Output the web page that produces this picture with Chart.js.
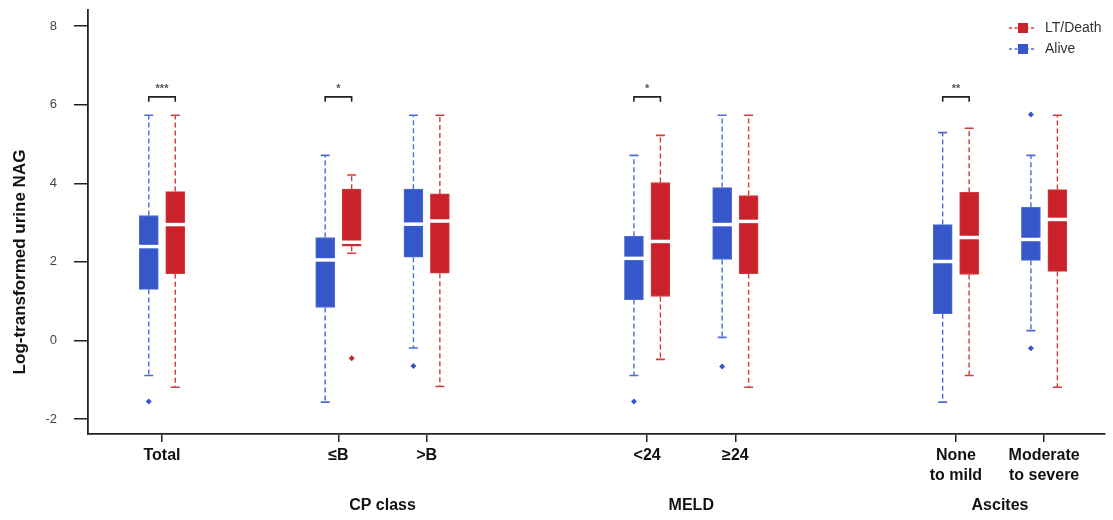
<!DOCTYPE html>
<html>
<head>
<meta charset="utf-8">
<script src="https://cdn.jsdelivr.net/npm/chart.js@4.4.1/dist/chart.umd.min.js"></script>
<style>
  html, body { margin: 0; padding: 0; background: #ffffff; }
  #wrap { width: 1113px; height: 520px; position: relative; }
</style>
</head>
<body>
<div id="wrap"><canvas id="c" width="1113" height="520"></canvas></div>
<script>
// ---------------- data ----------------
const categories = [['Total'], ['\u2264B'], ['>B'], ['<24'], ['\u226524'], ['None', 'to mild'], ['Moderate', 'to severe']];
const catPos = [1, 3, 4, 6.5, 7.5, 10, 11];
const groupLabels = ['CP class', 'MELD', 'Ascites'];
const groupPos = [3.5, 7.0, 10.5];
const yTicks = [-2, 0, 2, 4, 6, 8];
const seriesNames = ['Alive', 'LT/Death'];

// Alive (blue)
const aliveLow    = [-0.89, -1.57, -0.19, -0.89, 0.08, -1.57, 0.25];
const aliveQ1     = [1.30, 0.84, 2.12, 1.04, 2.06, 0.68, 2.04];
const aliveMedian = [2.39, 2.05, 2.96, 2.09, 2.95, 2.01, 2.57];
const aliveQ3     = [3.18, 2.62, 3.85, 2.65, 3.89, 2.95, 3.39];
const aliveHigh   = [5.73, 4.71, 5.73, 4.71, 5.73, 5.29, 4.71];
const aliveOutliers = [[-1.55], [], [-0.65], [-1.55], [-0.66], [], [-0.20, 5.75]];

// LT/Death (red)
const deathLow    = [-1.19, 2.22, -1.17, -0.48, -1.19, -0.89, -1.19];
const deathQ1     = [1.70, 2.40, 1.71, 1.12, 1.70, 1.68, 1.76];
const deathMedian = [2.95, 2.50, 3.04, 2.52, 3.03, 2.62, 3.08];
const deathQ3     = [3.79, 3.85, 3.73, 4.02, 3.69, 3.77, 3.84];
const deathHigh   = [5.73, 4.21, 5.73, 5.22, 5.73, 5.40, 5.73];
const deathOutliers = [[], [-0.45], [], [], [], [], []];

// significance marks between the pair of each category
const sigMarks = ['***', '*', '', '*', '', '**', ''];
const sigBracketValue = 6.2;

// ---------------- styling ----------------
const BLUE = '#3557C9', BLUE_W = '#4D6CD3';
const RED = '#C9222A', RED_W = '#D23C3C';
const OFFSET = 0.15;           // box offset from category centre (axis units)
const BOX_W = 19;              // px
const LABEL_FONT = "'Liberation Sans', Arial, sans-serif";

const groups = [
  { name: seriesNames[0], color: BLUE, wcolor: BLUE_W, off: -OFFSET,
    low: aliveLow, q1: aliveQ1, med: aliveMedian, q3: aliveQ3, high: aliveHigh, out: aliveOutliers },
  { name: seriesNames[1], color: RED, wcolor: RED_W, off: OFFSET,
    low: deathLow, q1: deathQ1, med: deathMedian, q3: deathQ3, high: deathHigh, out: deathOutliers }
];

const datasets = [];
groups.forEach(g => {
  datasets.push({
    type: 'bar',
    label: g.name,
    data: catPos.map((p, i) => ({ x: p + g.off, y: [g.q1[i], g.q3[i]] })),
    backgroundColor: g.color,
    borderColor: g.wcolor,
    borderWidth: 1,
    borderSkipped: false,
    barThickness: BOX_W,
    grouped: false,
    order: 2
  });
});
groups.forEach(g => {
  const pts = [];
  catPos.forEach((p, i) => g.out[i].forEach(v => pts.push({ x: p + g.off, y: v })));
  datasets.push({
    type: 'scatter',
    label: g.name + ' outliers',
    data: pts,
    backgroundColor: g.color,
    borderColor: g.color,
    pointStyle: 'rectRot',
    pointRadius: 3,
    borderWidth: 0,
    order: 1
  });
});

const boxExtras = {
  id: 'boxExtras',
  beforeDatasetsDraw(chart) {
    const { ctx, scales: { x, y } } = chart;
    ctx.save();
    groups.forEach(g => {
      catPos.forEach((p, i) => {
        const cx = x.getPixelForValue(p + g.off);
        ctx.strokeStyle = g.wcolor;
        ctx.lineWidth = 1.4;
        ctx.setLineDash([5, 3]);
        ctx.beginPath();
        ctx.moveTo(cx, y.getPixelForValue(g.q3[i]));
        ctx.lineTo(cx, y.getPixelForValue(g.high[i]));
        ctx.moveTo(cx, y.getPixelForValue(g.q1[i]));
        ctx.lineTo(cx, y.getPixelForValue(g.low[i]));
        ctx.stroke();
        ctx.setLineDash([]);
        ctx.lineWidth = 1.6;
        ctx.beginPath();
        [g.high[i], g.low[i]].forEach(v => {
          const py = y.getPixelForValue(v);
          ctx.moveTo(cx - 4.5, py);
          ctx.lineTo(cx + 4.5, py);
        });
        ctx.stroke();
      });
    });
    ctx.restore();
  },
  afterDatasetsDraw(chart) {
    const { ctx, scales: { x, y } } = chart;
    ctx.save();
    // medians
    groups.forEach(g => {
      catPos.forEach((p, i) => {
        const cx = x.getPixelForValue(p + g.off);
        const py = y.getPixelForValue(g.med[i]);
        ctx.strokeStyle = '#ffffff';
        ctx.lineWidth = 3.5;
        ctx.beginPath();
        ctx.moveTo(cx - BOX_W / 2 - 1, py);
        ctx.lineTo(cx + BOX_W / 2 + 1, py);
        ctx.stroke();
      });
    });
    // significance brackets
    catPos.forEach((p, i) => {
      if (!sigMarks[i]) return;
      const x1 = x.getPixelForValue(p - OFFSET);
      const x2 = x.getPixelForValue(p + OFFSET);
      const by = y.getPixelForValue(sigBracketValue);
      ctx.strokeStyle = '#222';
      ctx.lineWidth = 1.6;
      ctx.beginPath();
      ctx.moveTo(x1, by + 5);
      ctx.lineTo(x1, by);
      ctx.lineTo(x2, by);
      ctx.lineTo(x2, by + 5);
      ctx.stroke();
      ctx.fillStyle = '#555';
      ctx.font = "bold 11px " + LABEL_FONT;
      ctx.textAlign = 'center';
      ctx.textBaseline = 'middle';
      ctx.fillText(sigMarks[i], (x1 + x2) / 2, by - 8);
    });
    ctx.restore();
  },
  afterDraw(chart) {
    const { ctx, scales: { x } } = chart;
    ctx.save();
    // group labels
    ctx.fillStyle = '#111';
    ctx.font = "bold 16px " + LABEL_FONT;
    ctx.textAlign = 'center';
    ctx.textBaseline = 'middle';
    groupPos.forEach((p, i) => ctx.fillText(groupLabels[i], x.getPixelForValue(p), 506));
    // y axis title
    ctx.save();
    ctx.translate(20, 262);
    ctx.rotate(-Math.PI / 2);
    ctx.font = "bold 17px " + LABEL_FONT;
    ctx.fillText('Log-transformed urine NAG', 0, 0);
    ctx.restore();
    // legend (LT/Death first, then Alive)
    const items = [groups[1], groups[0]];
    items.forEach((g, k) => {
      const ly = 28 + k * 21;
      ctx.strokeStyle = g.wcolor;
      ctx.lineWidth = 1.4;
      ctx.setLineDash([3, 2.5]);
      ctx.beginPath();
      ctx.moveTo(1009, ly);
      ctx.lineTo(1036, ly);
      ctx.stroke();
      ctx.setLineDash([]);
      ctx.fillStyle = g.color;
      ctx.fillRect(1018, ly - 5, 10, 10);
      ctx.fillStyle = '#333';
      ctx.font = "14px " + LABEL_FONT;
      ctx.textAlign = 'left';
      ctx.fillText(g.name, 1045, ly);
    });
    ctx.restore();
  }
};

new Chart(document.getElementById('c'), {
  data: { datasets },
  plugins: [boxExtras],
  options: {
    responsive: false,
    animation: false,
    devicePixelRatio: 1,
    layout: { padding: { left: 0, right: 8, top: 10, bottom: 0 } },
    plugins: { legend: { display: false }, tooltip: { enabled: false } },
    scales: {
      x: {
        type: 'linear',
        offset: false,
        min: 0.161,
        max: 11.69,
        afterFit(s) { s.height = 86; s.paddingLeft = 0; s.paddingRight = 0; },
        afterBuildTicks(s) { s.ticks = catPos.map(v => ({ value: v })); },
        grid: { offset: false, drawOnChartArea: false, drawTicks: true, tickLength: 8, color: '#222', lineWidth: 1.5 },
        border: { display: true, color: '#222', width: 1.8 },
        ticks: {
          autoSkip: false,
          maxRotation: 0,
          padding: 4,
          color: '#111',
          font: { family: LABEL_FONT, size: 16, weight: 'bold', lineHeight: 1.25 },
          callback: (v, i) => categories[i]
        }
      },
      y: {
        type: 'linear',
        min: -2.38,
        max: 8.41,
        afterFit(s) { s.width = 88; s.paddingTop = 0; s.paddingBottom = 0; },
        afterBuildTicks(s) { s.ticks = yTicks.map(v => ({ value: v })); },
        grid: { drawOnChartArea: false, drawTicks: true, tickLength: 14, color: '#222', lineWidth: 1.5 },
        border: { display: true, color: '#222', width: 1.8 },
        ticks: {
          padding: 17,
          color: '#444',
          font: { family: LABEL_FONT, size: 13 },
          callback: v => String(v)
        }
      }
    }
  }
});
</script>
</body>
</html>
